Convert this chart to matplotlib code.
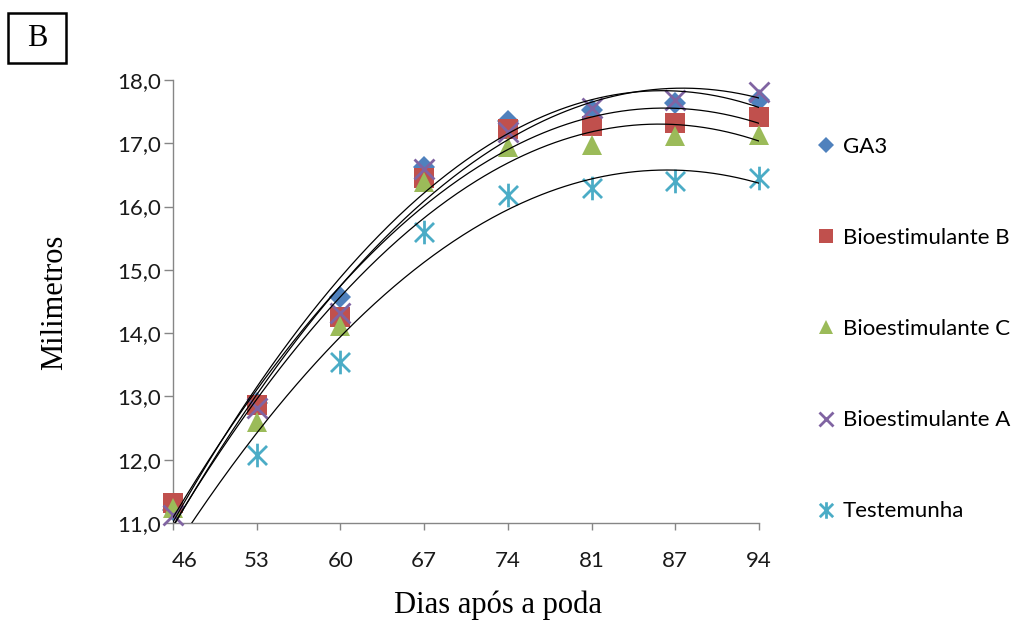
import numpy as np
import matplotlib
matplotlib.use("Agg")
import matplotlib.pyplot as plt
import matplotlib.transforms as mtransforms
from matplotlib.path import Path
from matplotlib.patches import Rectangle

# ---- data ----
days = ["46", "53", "60", "67", "74", "81", "87", "94"]
ga3 = [11.20, 12.90, 14.57, 16.63, 17.35, 17.53, 17.63, 17.68]
bio_b = [11.32, 12.87, 14.26, 16.45, 17.22, 17.27, 17.32, 17.42]
bio_c = [11.24, 12.60, 14.12, 16.39, 16.94, 16.97, 17.12, 17.13]
bio_a = [11.13, 12.82, 14.32, 16.60, 17.18, 17.55, 17.68, 17.81]
testemunha = [10.82, 12.08, 13.55, 15.60, 16.18, 16.29, 16.40, 16.45]
series_names = ["GA3", "Bioestimulante B", "Bioestimulante C", "Bioestimulante A", "Testemunha"]
y_ticks = [11, 12, 13, 14, 15, 16, 17, 18]

series = [ga3, bio_b, bio_c, bio_a, testemunha]
colors = ["#4F81BD", "#C0504D", "#9BBB59", "#8064A2", "#4BACC6"]

# asterisk marker (x with vertical bar)
s = 0.5
star = Path([(-s, -s), (s, s), (-s, s), (s, -s), (0, -0.62), (0, 0.62)],
            [Path.MOVETO, Path.LINETO, Path.MOVETO, Path.LINETO, Path.MOVETO, Path.LINETO])

styles = [
    dict(marker="D", ms=11, mfc=colors[0], mec=colors[0], mew=0),
    dict(marker="s", ms=14, mfc=colors[1], mec=colors[1], mew=0),
    dict(marker="^", ms=15, mfc=colors[2], mec=colors[2], mew=0),
    dict(marker="x", ms=14, mfc="none", mec=colors[3], mew=2),
    dict(marker=star, ms=17, mfc="none", mec=colors[4], mew=2),
]

sans = ["Lato", "DejaVu Sans"]
serif = ["Liberation Serif", "DejaVu Serif"]

fig = plt.figure(figsize=(10.36, 6.21), dpi=100)
ax = fig.add_axes([173/1036, 1-523/621, (759-173)/1036, (523-80)/621])

x = np.arange(len(days))
ymin, ymax = 11, 18
handles = []
for vals, st, name in zip(series, styles, series_names):
    vals = np.array(vals)
    vis = vals >= ymin
    h, = ax.plot(x[vis], vals[vis], linestyle="none", clip_on=False, zorder=3, **st)
    handles.append(h)
# quadratic trend lines (Excel style, x = 1..n)
xf = np.linspace(0, len(days)-1, 300)
for vals in series:
    c = np.polyfit(x + 1, vals, 2)
    ax.plot(xf, np.polyval(c, xf + 1), color="black", lw=0.9, zorder=4)

ax.set_xlim(0, len(days)-1)
ax.set_ylim(ymin, ymax)
ax.set_xticks(x)
ax.set_xticklabels(days)
ax.set_yticks(y_ticks)
ax.set_yticklabels([f"{v:.1f}".replace(".", ",") for v in y_ticks])
for sp in ["top", "right"]:
    ax.spines[sp].set_visible(False)
for sp in ["left", "bottom"]:
    ax.spines[sp].set_color("#868686")
    ax.spines[sp].set_linewidth(1.0)
ax.tick_params(axis="y", direction="out", length=6.5, width=1, color="#868686", pad=2)
ax.tick_params(axis="x", direction="out", length=5, width=1, color="#868686", pad=15)
for lab in ax.get_xticklabels() + ax.get_yticklabels():
    lab.set_fontfamily(sans)
    lab.set_fontsize(16)
    lab.set_color("#1a1a1a")
# first category label nudged inside, as in the original
first = ax.get_xticklabels()[0]
first.set_transform(first.get_transform() + mtransforms.ScaledTranslation(12/100, 0, fig.dpi_scale_trans))

fig.text(55/1036, 1-302/621, "Milimetros", family=serif, fontsize=22,
         rotation=90, ha="center", va="center")
fig.text(498/1036, 1-605/621, "Dias após a poda", family=serif, fontsize=22,
         ha="center", va="center")

# panel label box
fig.patches.append(Rectangle((8/1036, 1-63/621), 58/1036, 50/621, transform=fig.transFigure,
                             fill=False, edgecolor="black", lw=1.8))
fig.text(37/1036, 1-39/621, "B", family=serif, fontsize=22, ha="center", va="center")

leg = fig.legend(handles, series_names, loc="upper left",
                 bbox_to_anchor=(816/1036, 1-137/621), frameon=False,
                 prop={"family": sans, "size": 16}, labelspacing=3.2,
                 handlelength=0.9, handletextpad=0.3, borderpad=0, borderaxespad=0,
                 markerscale=0.7)

fig.savefig("out.png", dpi=100)
